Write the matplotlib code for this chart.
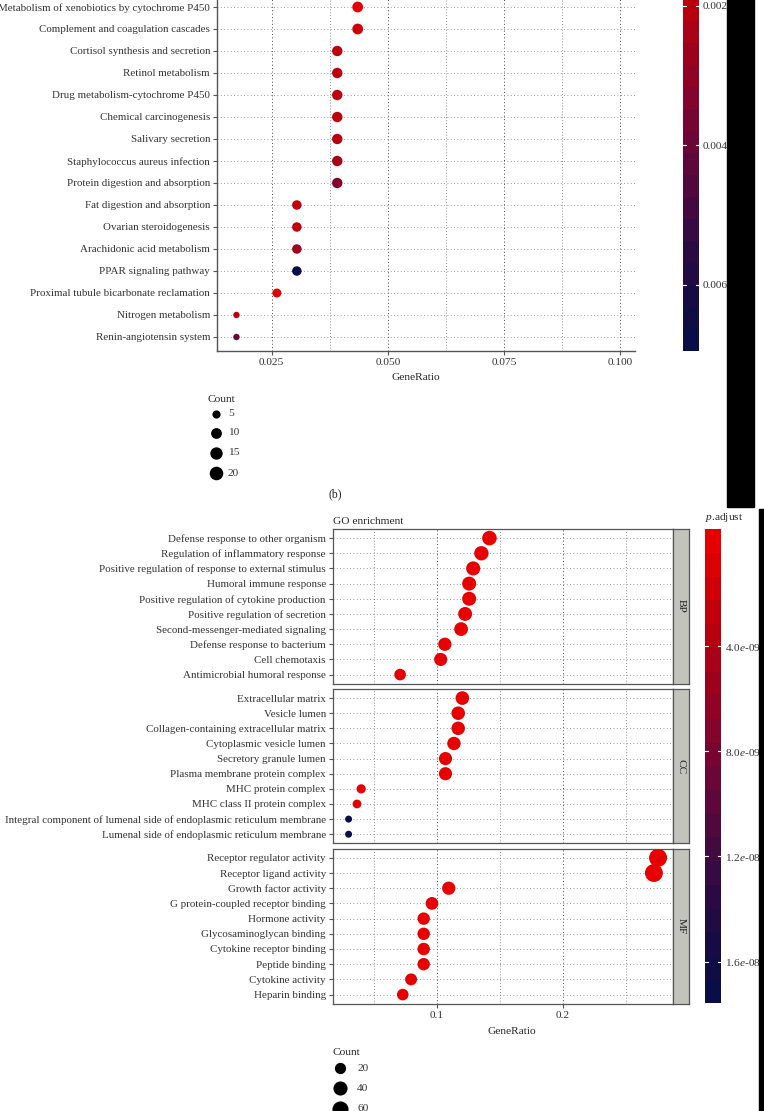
import numpy as np
import matplotlib
matplotlib.use("Agg")
import matplotlib.pyplot as plt
from matplotlib.colors import LinearSegmentedColormap, Normalize
from matplotlib.patches import Rectangle

W, H, DPI = 764, 1111, 100

# ---- KEGG enrichment (top, cropped) ----
kegg_terms = [
    "Metabolism of xenobiotics by cytochrome P450",
    "Complement and coagulation cascades",
    "Cortisol synthesis and secretion",
    "Retinol metabolism",
    "Drug metabolism-cytochrome P450",
    "Chemical carcinogenesis",
    "Salivary secretion",
    "Staphylococcus aureus infection",
    "Protein digestion and absorption",
    "Fat digestion and absorption",
    "Ovarian steroidogenesis",
    "Arachidonic acid metabolism",
    "PPAR signaling pathway",
    "Proximal tubule bicarbonate reclamation",
    "Nitrogen metabolism",
    "Renin-angiotensin system",
]
kegg_ratio = [0.0435, 0.0435, 0.0391, 0.0391, 0.0391, 0.0391, 0.0391, 0.0391,
              0.0391, 0.0304, 0.0304, 0.0304, 0.0304, 0.0261, 0.0174, 0.0174]
kegg_count = [10, 10, 9, 9, 9, 9, 9, 9, 9, 7, 7, 7, 7, 6, 4, 4]
kegg_padj = [0.0008, 0.0015, 0.0019, 0.0019, 0.0019, 0.0019, 0.0020, 0.0024,
             0.0033, 0.0018, 0.0018, 0.0026, 0.00679, 0.0009, 0.0020, 0.0040]
kegg_xticks = [0.025, 0.050, 0.075, 0.100]
kegg_cbar_ticks = [0.002, 0.004, 0.006]
kegg_cbar_labels = ["0.002", "0.004", "0.006"]
kegg_legend_counts = [5, 10, 15, 20]

# ---- GO enrichment (bottom, faceted) ----
bp_terms = [
    "Defense response to other organism",
    "Regulation of inflammatory response",
    "Positive regulation of response to external stimulus",
    "Humoral immune response",
    "Positive regulation of cytokine production",
    "Positive regulation of secretion",
    "Second-messenger-mediated signaling",
    "Defense response to bacterium",
    "Cell chemotaxis",
    "Antimicrobial humoral response",
]
bp_ratio = [0.1419, 0.1355, 0.1290, 0.1258, 0.1258, 0.1226, 0.1194, 0.1065, 0.1032, 0.0710]
bp_count = [44, 42, 40, 39, 39, 38, 37, 33, 32, 22]
bp_padj = [2e-14, 5e-14, 8e-14, 1e-13, 2e-13, 3e-13, 5e-13, 1e-12, 2e-12, 5e-12]

cc_terms = [
    "Extracellular matrix",
    "Vesicle lumen",
    "Collagen-containing extracellular matrix",
    "Cytoplasmic vesicle lumen",
    "Secretory granule lumen",
    "Plasma membrane protein complex",
    "MHC protein complex",
    "MHC class II protein complex",
    "Integral component of lumenal side of endoplasmic reticulum membrane",
    "Lumenal side of endoplasmic reticulum membrane",
]
cc_ratio = [0.1204, 0.1171, 0.1171, 0.1137, 0.1070, 0.1070, 0.0401, 0.0368, 0.0301, 0.0301]
cc_count = [36, 35, 35, 34, 32, 32, 12, 11, 9, 9]
cc_padj = [3e-13, 6e-13, 8e-13, 1e-12, 3e-12, 6e-12, 2e-11, 4e-11, 1.714e-8, 1.714e-8]

mf_terms = [
    "Receptor regulator activity",
    "Receptor ligand activity",
    "Growth factor activity",
    "G protein-coupled receptor binding",
    "Hormone activity",
    "Glycosaminoglycan binding",
    "Cytokine receptor binding",
    "Peptide binding",
    "Cytokine activity",
    "Heparin binding",
]
mf_ratio = [0.2757, 0.2724, 0.1096, 0.0963, 0.0897, 0.0897, 0.0897, 0.0897, 0.0797, 0.0731]
mf_count = [83, 82, 33, 29, 27, 27, 27, 27, 24, 22]
mf_padj = [1e-20, 2e-20, 1e-12, 3e-12, 5e-12, 6e-12, 7e-12, 8e-12, 2e-11, 4e-11]

go_facets = ["BP", "CC", "MF"]
go_xticks = [0.1, 0.2]
go_cbar_ticks = [4e-9, 8e-9, 1.2e-8, 1.6e-8]
go_cbar_labels = ["4.0$e$-09", "8.0$e$-09", "1.2$e$-08", "1.6$e$-08"]
go_legend_counts = [20, 40, 60]

plt.rcParams["font.family"] = ["Liberation Serif", "DejaVu Serif"]
plt.rcParams["mathtext.fontset"] = "custom"
plt.rcParams["mathtext.rm"] = "Liberation Serif"
plt.rcParams["mathtext.it"] = "Liberation Serif:italic"

cmap = LinearSegmentedColormap.from_list("padj", [
    (0.00, "#E60000"), (0.20, "#B8000E"), (0.45, "#7C0430"),
    (0.55, "#650838"), (0.72, "#3A0A42"), (0.88, "#180B42"), (1.00, "#0A0E48")])

TXT = "#333333"
LINE = "#555555"
FS = 8.2     # titles, tick numbers
FSY = 7.95   # category labels


def box(l, t, r, b):
    return [l / W, 1 - b / H, (r - l) / W, (b - t) / H]


def dot_area(count, lims, rng):
    # ggplot-like area scale: diameter in px -> marker area in pt^2
    c = np.clip(np.asarray(count, float), lims[0], lims[1])
    d = rng[0] + (rng[1] - rng[0]) * np.sqrt((c - lims[0]) / (lims[1] - lims[0]))
    return (d * 72 / DPI) ** 2


def style_grid(ax, major, minor):
    ax.set_xticks(major)
    ax.set_xticks(minor, minor=True)
    ax.grid(axis="x", which="major", color="#444444", lw=0.7, ls=(0, (1, 2.5)))
    ax.grid(axis="x", which="minor", color="#666666", lw=0.6, ls=(0, (1, 2.5)))
    ax.grid(axis="y", which="major", color="#777777", lw=0.6, ls=(0, (1, 3)))
    ax.tick_params(axis="x", which="minor", length=0)
    ax.set_axisbelow(True)


def stepped_colorbar(cax, vmin, vmax, ticks, labels, nbin=20):
    centers = np.linspace(vmin, vmax, nbin)
    half = (vmax - vmin) / (nbin - 1) / 2
    edges = np.linspace(vmin - half, vmax + half, nbin + 1)
    norm = Normalize(vmin, vmax)
    cax.pcolormesh([0, 1], edges, centers.reshape(-1, 1), cmap=cmap, norm=norm)
    cax.set_ylim(vmax + half, vmin - half)
    cax.set_xlim(0, 1)
    for t in ticks:
        cax.plot([0, 0.2], [t, t], color="white", lw=0.8)
        cax.plot([0.8, 1], [t, t], color="white", lw=0.8)
    cax.yaxis.tick_right()
    cax.set_yticks(ticks)
    cax.set_yticklabels(labels)
    cax.set_xticks([])
    cax.tick_params(axis="y", length=0, pad=3, labelsize=FS, labelcolor=TXT)
    for s in cax.spines.values():
        s.set_visible(False)
    return norm


fig = plt.figure(figsize=(W / DPI, H / DPI), dpi=DPI)
fig.patch.set_facecolor("white")

# ================= top: KEGG dot plot =================
kegg_top_px, kegg_bot_px = -130, 351
ax1 = fig.add_axes(box(217, kegg_top_px, 635, kegg_bot_px))
ypos = np.arange(len(kegg_terms))[::-1] + 1
norm1 = Normalize(0.0008, 0.00679)
ax1.scatter(kegg_ratio, ypos, s=dot_area(kegg_count, (4, 23), (6.4, 14.2)),
            c=kegg_padj, cmap=cmap, norm=norm1, linewidths=0, zorder=3)
ylo = 1 - 14 / 22
ax1.set_ylim(ylo, ylo + (kegg_bot_px - kegg_top_px) / 22)
ax1.set_xlim(0.01321, 0.1032)
style_grid(ax1, kegg_xticks, [0.0375, 0.0625, 0.0875])
ax1.set_xticklabels(["%.3f" % v for v in kegg_xticks])
ax1.set_yticks(ypos)
ax1.set_yticklabels(kegg_terms)
ax1.tick_params(axis="both", length=3, color=LINE, labelsize=FS, labelcolor=TXT, pad=2)
ax1.tick_params(axis="y", labelsize=FSY)
for side in ["top", "right"]:
    ax1.spines[side].set_visible(False)
for side in ["left", "bottom"]:
    ax1.spines[side].set_color(LINE)
    ax1.spines[side].set_linewidth(1.0)

cax1 = fig.add_axes(box(683.3, 351 - 440, 698.7, 351))
stepped_colorbar(cax1, 0.0008, 0.00679, kegg_cbar_ticks, kegg_cbar_labels)

# ================= bottom: GO dot plot with facets =================
panel_rows = [(529, 683.7), (689, 843.3), (848.7, 1003.7)]
go_data = [(bp_terms, bp_ratio, bp_count, bp_padj),
           (cc_terms, cc_ratio, cc_count, cc_padj),
           (mf_terms, mf_ratio, mf_count, mf_padj)]
norm2 = Normalize(0.0, 1.714e-8)
for (top, bot), name, (terms, ratio, count, padj) in zip(panel_rows, go_facets, go_data):
    ax = fig.add_axes(box(332.7, top, 673.3, bot))
    yp = np.arange(len(terms))[::-1] + 1
    ax.scatter(ratio, yp, s=dot_area(count, (9, 83), (7, 18)),
               c=padj, cmap=cmap, norm=norm2, linewidths=0, zorder=3)
    ax.set_ylim(0.4, len(terms) + 0.6)
    ax.set_xlim(0.0175, 0.2878)
    style_grid(ax, go_xticks, [0.05, 0.15, 0.25])
    ax.set_yticks(yp)
    ax.set_yticklabels(terms)
    ax.tick_params(axis="both", length=3, color=LINE, labelsize=FS, labelcolor=TXT, pad=2)
    ax.tick_params(axis="y", labelsize=FSY)
    if name != "MF":
        ax.tick_params(axis="x", labelbottom=False, length=0)
    else:
        ax.set_xticklabels(["%.1f" % v for v in go_xticks])
    for s in ax.spines.values():
        s.set_color(LINE)
        s.set_linewidth(0.9)
    sax = fig.add_axes(box(673.3, top, 689.3, bot))
    sax.set_facecolor("#C3C3BE")
    sax.set_xticks([])
    sax.set_yticks([])
    for s in sax.spines.values():
        s.set_color(LINE)
        s.set_linewidth(0.9)
    sax.text(0.5, 0.5, name, rotation=-90, ha="center", va="center",
             fontsize=FS, color="#222222", transform=sax.transAxes)

cax2 = fig.add_axes(box(705, 529.3, 721, 1003.3))
stepped_colorbar(cax2, 0.0, 1.714e-8, go_cbar_ticks, go_cbar_labels)

# ================= overlay: titles, size legends, page edges =================
ov = fig.add_axes([0, 0, 1, 1], zorder=10)
ov.set_xlim(0, W)
ov.set_ylim(H, 0)
ov.axis("off")
ov.patch.set_visible(False)

ov.text(416, 377, "GeneRatio", ha="center", va="center", fontsize=FS, color="#222222")
ov.text(335, 494, "(b)", ha="center", va="center", fontsize=8.5, color="#222222")
ov.text(208, 399, "Count", ha="left", va="center", fontsize=FS, color="#222222")
for c, y in zip(kegg_legend_counts, [414, 432.5, 452.5, 473.3]):
    ov.scatter([215.7], [y], s=dot_area([c], (4, 23), (6.4, 14.2)), color="black", linewidths=0)
    ov.text(228, y, str(c), ha="left", va="center", fontsize=FS, color=TXT)

ov.text(333.3, 521, "GO enrichment", ha="left", va="center", fontsize=FS, color="#222222")
ov.text(511.7, 1031, "GeneRatio", ha="center", va="center", fontsize=FS, color="#222222")
ov.text(705, 517, "$p$.adjust", ha="left", va="center", fontsize=FS, color="#222222")
ov.text(332.7, 1052.3, "Count", ha="left", va="center", fontsize=FS, color="#222222")
for c, y in zip(go_legend_counts, [1068.3, 1088.3, 1108.5]):
    ov.scatter([340], [y], s=dot_area([c], (9, 83), (7, 18)), color="black", linewidths=0,
               clip_on=False)
    ov.text(357.3, y, str(c), ha="left", va="center", fontsize=FS, color=TXT)

ov.add_patch(Rectangle((726.7, -5), 27.6, 511.7, color="black", clip_on=False))
ov.add_patch(Rectangle((758.5, 509), 10, 610, color="black", clip_on=False))

fig.savefig("out.png", dpi=DPI)
